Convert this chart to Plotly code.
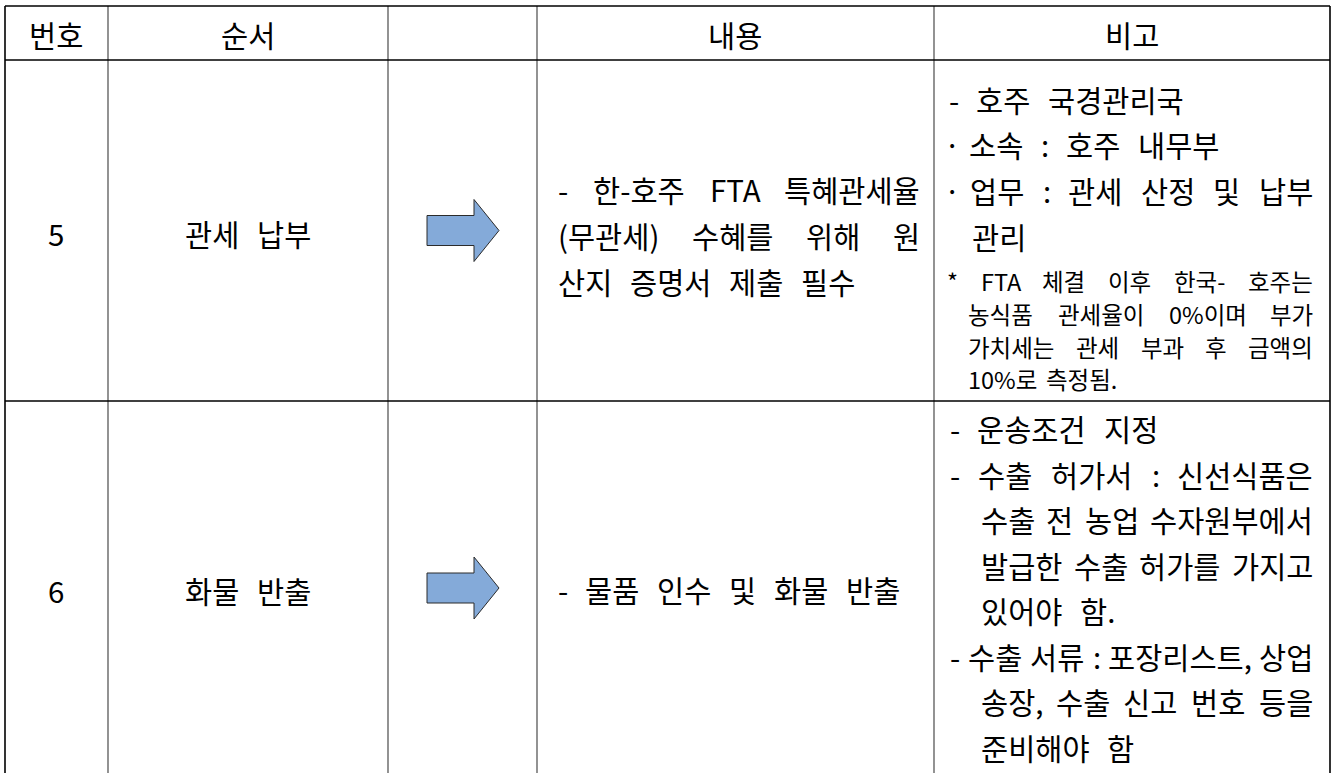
import plotly.graph_objects as go

# ---------------- data ----------------
headers = ["번호", "순서", "", "내용", "비고"]
numbers = ["5", "6"]
steps = ["관세 납부", "화물 반출"]
content_row5 = ["- 한-호주 FTA 특혜관세율", "(무관세) 수혜를 위해 원", "산지 증명서 제출 필수"]
content_row6 = ["- 물품 인수 및 화물 반출"]
remark_row5 = ["- 호주 국경관리국", "· 소속 : 호주 내무부", "· 업무 : 관세 산정 및 납부", "관리"]
note_row5 = ["* FTA 체결 이후 한국- 호주는", "농식품 관세율이 0%이며 부가",
             "가치세는 관세 부과 후 금액의", "10%로 측정됨."]
remark_row6 = ["- 운송조건 지정", "- 수출 허가서 : 신선식품은", "수출 전 농업 수자원부에서",
               "발급한 수출 허가를 가지고", "있어야 함.", "- 수출 서류 : 포장리스트, 상업",
               "송장, 수출 신고 번호 등을", "준비해야 함"]

# ---------------- layout / style ----------------
W, H = 1335, 773
FONT = "Noto Sans CJK KR, Malgun Gothic, sans-serif"
BIG, SMALL = 29.5, 23.5
col_edges = [5, 108, 388, 537, 934, 1330]
row_edges = [6, 60, 401, 775]
header_y = 34
CONTENT_RIGHT = 920
REMARK_RIGHT = 1313

# per-line placement: (left x, y, justified)
content_row5_pos = [(558, 189, True), (558, 235, True), (558, 281, False)]
content_row6_pos = [(558, 589, False)]
remark_row5_pos = [(949, 99, False), (944, 144, False), (944, 190, True), (972, 236, False)]
note_row5_pos = [(947, 281, True), (968, 314, True), (968, 347, True), (968, 379, False)]
remark_row6_pos = [(950, 428, False), (950, 473.5, True), (981, 519, True), (981, 564.5, True),
                   (981, 610, False), (950, 655.5, True), (981, 701, True), (981, 746.5, False)]

ARROW_FILL = "#84aad9"
ARROW_LINE = "#2b2b2b"

LATIN = {"-": 0.33, "(": 0.33, ")": 0.33, ".": 0.24, ",": 0.24, ":": 0.24, "·": 0.26,
         "*": 0.46, "%": 0.86, "F": 0.52, "T": 0.53, "A": 0.60}
HANGUL_EM = 0.92
GAP_EM = 0.6


def char_w(ch, size):
    o = ord(ch)
    if 0xAC00 <= o <= 0xD7A3 or 0x3130 <= o <= 0x318F:
        return size * HANGUL_EM
    if ch.isdigit():
        return size * 0.555
    return size * LATIN.get(ch, 0.55)


def word_w(word, size):
    return sum(char_w(c, size) for c in word)


annotations = []


def put(text, x, y, size, anchor="left"):
    annotations.append(dict(
        text=text, x=x, y=y, xref="x", yref="y", xanchor=anchor, yanchor="middle",
        showarrow=False, font=dict(family=FONT, size=size, color="#000000"),
        borderpad=0, borderwidth=0))


def place_line(line, x0, y, justify, right, size, gap_em=GAP_EM):
    words = line.split(" ")
    gap_nat = size * gap_em
    if justify and len(words) > 1:
        widths = [word_w(w, size) for w in words]
        gap = (right - x0 - sum(widths)) / (len(words) - 1)
        x = x0
        for i, w in enumerate(words):
            if i == len(words) - 1:
                put(w, right, y, size, "right")
            else:
                put(w, x, y, size)
            x += widths[i] + gap
    else:
        x = x0
        for w in words:
            put(w, x, y, size)
            x += word_w(w, size) + gap_nat


def place_center(line, xc, y, size):
    words = line.split(" ")
    total = sum(word_w(w, size) for w in words) + size * GAP_EM * (len(words) - 1)
    place_line(line, xc - total / 2, y, False, None, size)


fig = go.Figure()

# table grid
shapes = []
top, bottom = row_edges[0], row_edges[-1]
for i, x in enumerate(col_edges):
    outer = i in (0, len(col_edges) - 1)
    shapes.append(dict(type="line", x0=x, x1=x, y0=top, y1=bottom, xref="x", yref="y",
                       line=dict(color="#000000" if outer else "#3a3a3a", width=1.6 if outer else 1.1)))
for y in row_edges[:-1]:
    shapes.append(dict(type="line", x0=col_edges[0], x1=col_edges[-1], y0=y, y1=y, xref="x", yref="y",
                       line=dict(color="#000000", width=1.6)))

# headers
for i, h in enumerate(headers):
    if h:
        place_center(h, (col_edges[i] + col_edges[i + 1]) / 2, header_y, BIG)

# rows: number, step, arrow
for r in range(2):
    yc = (row_edges[r + 1] + row_edges[r + 2]) / 2
    place_center(numbers[r], (col_edges[0] + col_edges[1]) / 2, yc + 2, BIG)
    place_center(steps[r], (col_edges[1] + col_edges[2]) / 2, yc + 2, BIG)
    # arrow in third column
    xl, xh, xt = 427, 474, 499
    bh, hh = 15, 31
    ax = [xl, xh, xh, xt, xh, xh, xl, xl]
    ay = [yc - bh, yc - bh, yc - hh, yc, yc + hh, yc + bh, yc + bh, yc - bh]
    fig.add_trace(go.Scatter(x=ax, y=ay, mode="lines", fill="toself", fillcolor=ARROW_FILL,
                             line=dict(color=ARROW_LINE, width=1), hoverinfo="skip", showlegend=False))

for line, (x0, y, j) in zip(content_row5, content_row5_pos):
    place_line(line, x0, y, j, CONTENT_RIGHT, BIG)
for line, (x0, y, j) in zip(content_row6, content_row6_pos):
    place_line(line, x0, y, j, CONTENT_RIGHT, BIG)
for line, (x0, y, j) in zip(remark_row5, remark_row5_pos):
    place_line(line, x0, y, j, REMARK_RIGHT, BIG)
for line, (x0, y, j) in zip(note_row5, note_row5_pos):
    place_line(line, x0, y, j, REMARK_RIGHT, SMALL, 0.45)
for line, (x0, y, j) in zip(remark_row6, remark_row6_pos):
    place_line(line, x0, y, j, REMARK_RIGHT, BIG)

fig.update_layout(
    width=W, height=H, margin=dict(l=0, r=0, t=0, b=0),
    paper_bgcolor="white", plot_bgcolor="white",
    xaxis=dict(range=[0, W], visible=False, fixedrange=True),
    yaxis=dict(range=[H, 0], visible=False, fixedrange=True),
    shapes=shapes, annotations=annotations, showlegend=False,
)

fig.write_html("out.html", config={"displayModeBar": False},
               post_script="document.body.style.margin='0';document.body.style.overflow='hidden';")
